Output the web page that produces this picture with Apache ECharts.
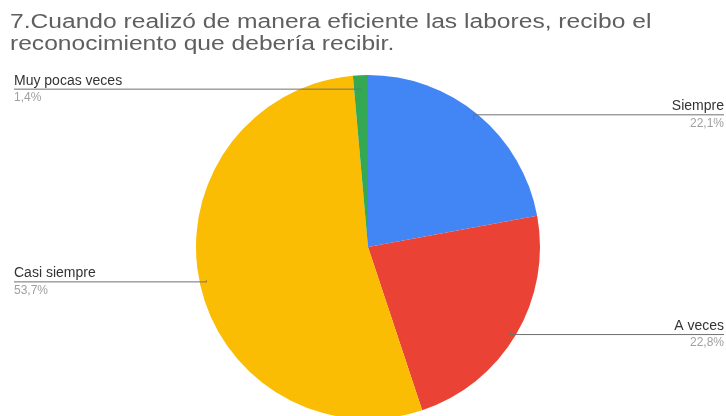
<!DOCTYPE html>
<html>
<head>
<meta charset="utf-8">
<script src="https://cdn.jsdelivr.net/npm/echarts@6/dist/echarts.min.js"></script>
<style>
  html, body { margin: 0; padding: 0; background: #ffffff; }
  #chart { width: 726px; height: 416px; }
</style>
</head>
<body>
<div id="chart"></div>
<script>
// Survey answers, percentage of respondents
const categories = ['Siempre', 'A veces', 'Casi siempre', 'Muy pocas veces'];
const percentages = [22.1, 22.8, 53.7, 1.4];
const sliceColors = ['#4285f4', '#ea4335', '#fbbc04', '#34a853'];
const titleText = '7.Cuando realizó de manera eficiente las labores, recibo el\nreconocimiento que debería recibir.';

const CENTER = [368, 247];
const RADIUS = 172;
const FONT = 'Liberation Sans, Arial, sans-serif';

function formatPercent(v) {
  return String(v).replace('.', ',') + '%';
}

const chart = echarts.init(document.getElementById('chart'));

// coloured slices
const sliceData = categories.map(function (name, i) {
  return { name: name, value: percentages[i], itemStyle: { color: sliceColors[i] } };
});

// same geometry, invisible fill: carries the labels and leader lines on top of the slices
const labelData = categories.map(function (name, i) {
  const onLeft = i >= 2;
  return {
    name: name,
    value: percentages[i],
    itemStyle: { color: 'rgba(0,0,0,0)' },
    label: { edgeDistance: onLeft ? 14 : 2 }
  };
});

chart.setOption({
  animation: false,
  graphic: [{
    type: 'text',
    left: 10,
    top: 11,
    scaleX: 1.23,
    style: {
      text: titleText,
      font: '20px ' + FONT,
      fill: '#5f5f5f',
      lineHeight: 22
    }
  }],
  series: [{
    type: 'pie',
    z: 2,
    center: CENTER,
    radius: RADIUS,
    startAngle: 90,
    clockwise: true,
    silent: true,
    data: sliceData,
    label: { show: false },
    labelLine: { show: false },
    emphasis: { disabled: true }
  }, {
    type: 'pie',
    z: 3,
    center: CENTER,
    radius: RADIUS,
    startAngle: 90,
    clockwise: true,
    silent: true,
    data: labelData,
    label: {
      show: true,
      alignTo: 'edge',
      edgeDistance: 2,
      formatter: function (p) {
        return '{n|' + p.name + '}\n{p|' + formatPercent(p.value) + '}';
      },
      rich: {
        n: { fontFamily: FONT, fontSize: 14, color: '#333333', lineHeight: 17 },
        p: { fontFamily: FONT, fontSize: 12, color: '#a0a0a0', lineHeight: 17 }
      }
    },
    labelLine: {
      show: true,
      showAbove: true,
      length: 0,
      length2: 0,
      lineStyle: { color: '#707070', width: 1, opacity: 1 }
    },
    labelLayout: function (params) {
      const pts = params.labelLinePoints;
      if (!pts) return {};
      // start the leader inside the slice (deeper for very thin slices),
      // then run it under the text out to the edge
      const thin = percentages[params.dataIndex] < 3;
      const inset = thin ? 14 : 7;
      const p0 = pts[0];
      const dx = p0[0] - CENTER[0];
      const dy = p0[1] - CENTER[1];
      const d = Math.sqrt(dx * dx + dy * dy) || 1;
      const sx = p0[0] - dx / d * inset;
      const sy = p0[1] - dy / d * inset;
      const shiftY = thin ? sy - p0[1] : 0;
      const last = pts[pts.length - 1];
      const right = last[0] > CENTER[0];
      const lineY = last[1] + shiftY;
      const result = {
        labelLinePoints: [[sx, sy], [sx, lineY], [right ? 724 : 14, lineY]]
      };
      if (thin) result.y = lineY;
      return result;
    },
    emphasis: { disabled: true }
  }]
});
</script>
</body>
</html>
